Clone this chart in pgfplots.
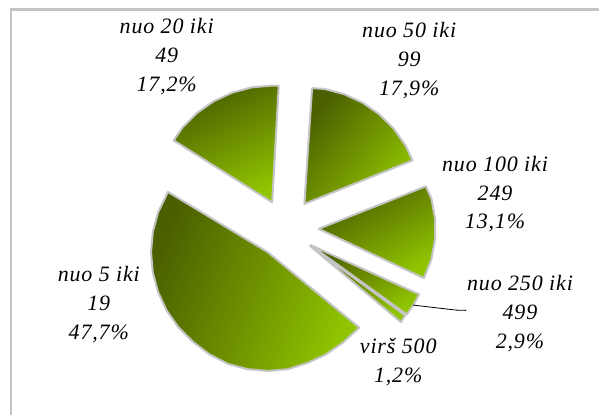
\documentclass[border=0pt]{standalone}
\usepackage{pgfplots}
\pgfplotsset{compat=1.18}
\usepackage{fontspec}
\setmainfont{Liberation Serif}[LetterSpace=4]
\definecolor{dk}{HTML}{4A6000}
\definecolor{md}{HTML}{6E9000}
\definecolor{br}{HTML}{90C400}
\definecolor{edge}{HTML}{C4C4C4}
\tikzset{lab/.style={align=center,font=\fontsize{22}{29}\selectfont\itshape,inner sep=0pt}}
\pgfplotsset{slice/.style={draw=edge,line width=2pt,line join=round,no markers,top color=dk,bottom color=br,middle color=md,shading angle=#1}}
\begin{document}
\begin{tikzpicture}
\begin{axis}[scale only axis,width=600pt,height=416pt,xmin=0,xmax=600,ymin=0,ymax=416,y dir=reverse,hide axis,clip=false]
\path (axis cs:0,0) rectangle (axis cs:600,416);
% frame: left and top sides only
\addplot[draw=edge,line width=2.4pt,no markers] coordinates {(11,416)(11,9.7)(600,9.7)};
% nuo 5
\addplot[slice=68] coordinates {(268.3,252.7)(360,328.3)(343.5,343.3)(326.8,355)(308.3,363.6)(288.6,369.9)(268.3,371.7)(248,369.9)(228.3,364.6)(209.8,355)(193.1,342.3)(178.7,327.9)(167,311.2)(158.4,292.7)(153.1,273)(151.3,252.7)(153.1,232.4)(158.4,212.7)(168.3,192.3)} -- cycle;
% nuo 20
\addplot[slice=25] coordinates {(272.7,202.7)(174,140.7)(183.1,127.5)(197.5,113.1)(214.2,101.4)(232.7,92.8)(252.4,87.5)(272.7,85.7)(279.3,86)} -- cycle;
% nuo 50
\addplot[slice=50] coordinates {(305,204.3)(312.7,88.3)(325.3,89.1)(345,94.4)(363.5,103)(380.2,114.7)(394.6,129.1)(406.3,145.8)(413.3,160.7)} -- cycle;
% nuo 100
\addplot[slice=30] coordinates {(319.3,229.3)(426.7,186.7)(432.3,199)(435.9,219.1)(435.9,239.5)(432.3,259.6)(424.7,278.7)} -- cycle;
% nuo 250
\addplot[slice=30] coordinates {(311,245.5)(420,295)(414.3,305.5)(407.5,315)} -- cycle;
% virs 500
\addplot[slice=30] coordinates {(310.7,246.5)(406,316)(401.7,322.7)} -- cycle;
% leader
\addplot[black,line width=0.8pt,no markers] coordinates {(414,305.7)(456.7,310.7)(467,311)};
\node[lab] at (axis cs:167,57) {nuo 20 iki\\49\\17,2\%};
\node[lab] at (axis cs:410,61) {nuo 50 iki\\99\\17,9\%};
\node[lab] at (axis cs:496,194.5) {nuo 100 iki\\249\\13,1\%};
\node[lab] at (axis cs:99,305) {nuo 5 iki\\19\\47,7\%};
\node[lab] at (axis cs:521,314) {nuo 250 iki\\499\\2,9\%};
\node[lab] at (axis cs:399,363) {virš 500\\1,2\%};
\end{axis}
\end{tikzpicture}
\end{document}
